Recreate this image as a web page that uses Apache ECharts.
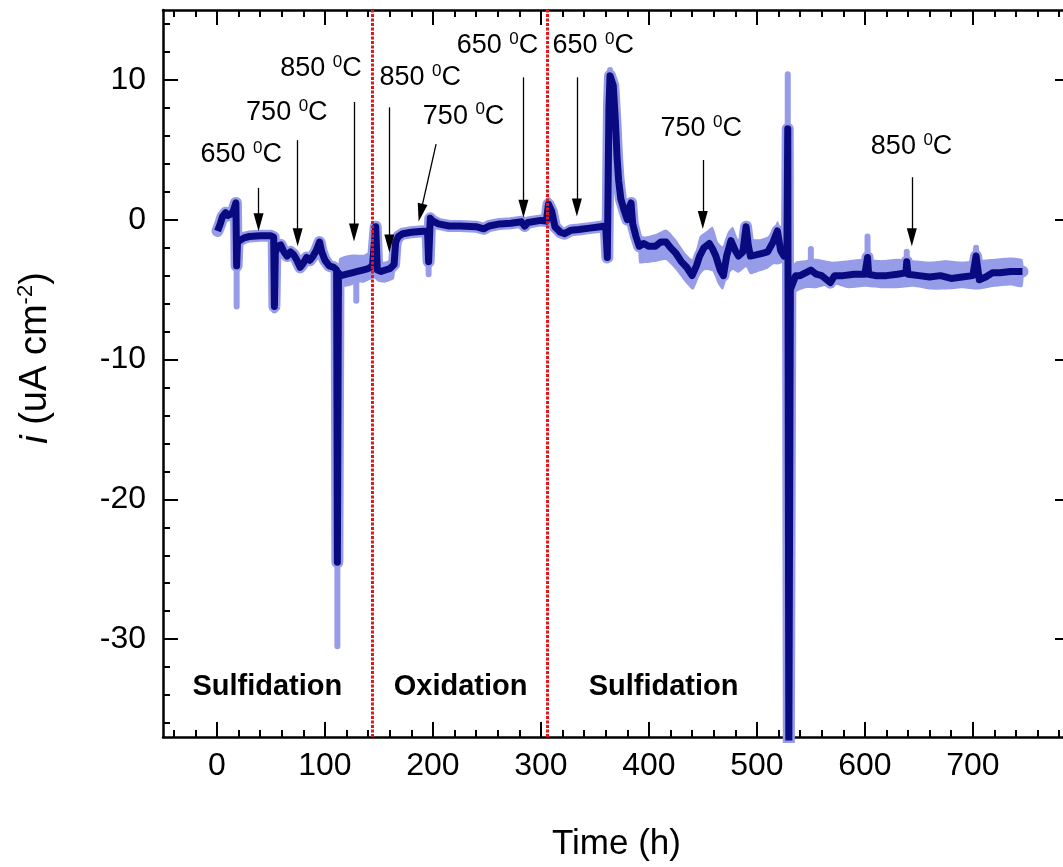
<!DOCTYPE html>
<html>
<head>
<meta charset="utf-8">
<title>Current density vs time</title>
<script src="https://cdn.jsdelivr.net/npm/echarts@6/dist/echarts.min.js"></script>
<style>
  html, body { margin: 0; padding: 0; overflow: hidden; background: #fff; }
  #main { width: 1080px; height: 867px; }
</style>
</head>
<body>
<div id="main"></div>
<script>
// smoothed trace (dark)
var darkT = [0.5, 3, 5, 8, 10, 13, 15, 17.5, 18.2, 19, 21, 25, 30, 40, 50, 52.5, 53.2, 54, 56, 59,
  62, 65, 68, 71, 74, 77, 80, 83, 86, 89, 92, 95, 97, 100, 104, 108, 110.8, 111.5, 112.5, 115,
  120, 125, 130, 135, 140, 144, 147, 148.5, 152, 156, 160, 164, 165.5, 168, 172, 180, 188, 195, 196, 197.5,
  200, 205, 215, 225, 240, 247, 252, 262, 272, 282, 285, 288, 300, 305, 307, 310, 313, 318, 322, 328,
  335, 345, 355, 360, 361.5, 363, 364, 367, 369, 370.5, 372, 374, 377, 380, 382, 383.5, 385, 388, 391, 395,
  400, 406, 411, 416, 420, 425, 430, 435, 440, 444, 447, 451, 456, 459, 462, 466, 469, 472, 476, 480,
  483, 487, 490, 492, 494, 500, 505, 510, 515, 519, 522, 525, 527.8, 528.6, 529.6, 531, 533, 536, 540, 545,
  550, 555, 560, 568, 572, 580, 590, 600, 602.5, 603.5, 610, 620, 630, 638, 638.8, 640, 650, 660, 670, 680,
  690, 700, 703, 706, 712, 718, 725, 735, 746];
var darkI = [-0.8, -0.3, 0.2, 0.5, 0.3, 0.4, 0.6, 1.2, -3.3, -1.6, -1.5, -1.3, -1.2, -1.15, -1.15, -1.25, -6.2, -2.4, -1.9, -1.8,
  -2.3, -2.6, -2.3, -2.5, -2.9, -3.4, -3.1, -2.7, -2.9, -2.6, -2.2, -1.6, -2.3, -2.9, -3.3, -3.4, -3.6, -24.5, -3.8, -4.0,
  -3.9, -3.8, -3.7, -3.6, -3.5, -3.3, -0.5, -3.6, -3.7, -3.6, -3.5, -3.2, -1.6, -1.2, -1.0, -0.9, -0.85, -0.8, -3.0, 0.1,
  -0.1, -0.3, -0.45, -0.45, -0.5, -0.65, -0.45, -0.3, -0.25, -0.15, -0.45, -0.2, -0.05, -0.1, 1.1, 0.6, -0.5, -0.9, -1.0, -0.75,
  -0.7, -0.6, -0.5, -0.45, -2.7, 8.0, 10.3, 9.6, 7.0, 4.5, 2.8, 1.5, 0.7, 0.0, 0.9, 1.2, -0.3, -1.2, -1.9, -1.7,
  -1.9, -1.9, -1.6, -1.6, -2.0, -2.4, -3.0, -3.4, -4.0, -3.3, -2.6, -2.0, -1.7, -2.1, -2.6, -3.6, -4.0, -2.6, -1.5, -2.2,
  -2.6, -2.3, -0.5, -1.8, -2.6, -2.5, -2.4, -2.3, -1.6, -0.8, -2.2, -2.6, -2.5, 6.5, -38, -5.0, -4.6, -4.0, -4.0, -3.8,
  -3.6, -3.9, -4.0, -4.5, -4.0, -4.0, -3.9, -3.9, -2.7, -3.9, -4.0, -4.0, -3.9, -3.8, -3.0, -3.9, -4.0, -4.1, -4.0, -4.2,
  -4.1, -4.0, -2.6, -4.3, -4.1, -3.8, -3.8, -3.7, -3.7];

// raw trace spikes that reach past the smoothed one (light)
var spikeT    = [18.2, 53.2, 111.5, 129, 196, 307, 364, 528.6, 550, 602.5, 638.8, 703];
var spikeFrom = [-3.3, -6.2, -24.5, -3.7, -3.0, 1.1, 10.3, 6.5, -3.6, -2.7, -3.0, -2.6];
var spikeTo   = [-6.2, -6.5, -30.5, -5.8, -3.9, 1.4, 10.7, 10.4, -2.1, -1.2, -2.3, -2.0];

// noise envelope of the raw trace
var bandAT  = [113, 118, 124, 130, 136, 142, 146, 148.5, 155, 164];
var bandALo = [-4.7, -4.8, -4.7, -4.5, -4.5, -4.3, -4.2, -4.4, -4.5, -4.2];
var bandAHi = [-2.8, -2.6, -2.5, -2.5, -2.5, -2.3, -2.4, -3.0, -3.0, -2.8];
var bandBT  = [391, 397, 407, 416, 425, 434, 441, 447, 452, 459, 464, 468.4, 473, 477.7, 483, 490, 494, 502, 510, 515,
  519.4, 524, 528, 531, 536, 545, 555, 570, 585, 600, 615, 630, 645, 660, 675, 690, 705, 720, 735, 746];
var bandBLo = [-3.1, -3.1, -3.0, -2.9, -3.6, -4.5, -5.0, -4.0, -3.6, -3.7, -4.6, -5.0, -4.0, -3.6, -3.8, -3.4, -3.9, -3.7, -3.5, -3.2,
  -3.2, -3.1, -3.3, -6.0, -5.2, -4.9, -4.9, -4.6, -4.9, -4.8, -4.9, -4.9, -4.8, -5.0, -5.0, -4.9, -5.0, -4.8, -4.7, -4.8];
var bandBHi = [-1.2, -1.2, -1.0, -0.7, -1.4, -2.4, -2.85, -1.2, -0.9, -0.5, -1.6, -1.9, -0.9, -0.5, -1.4, -0.2, -1.3, -1.4, -1.2, -0.7,
  -0.1, -1.2, -1.3, -3.4, -3.0, -2.9, -2.8, -3.0, -2.9, -2.8, -2.9, -2.8, -2.9, -3.0, -2.9, -3.0, -2.9, -2.8, -2.7, -2.85];

// temperature annotations
var annoT    = [22.5, 64.7, 96.3, 188.2, 228.4, 259.7, 348.4, 448.5, 643.3];
var annoI    = [4.63, 7.64, 10.8, 10.16, 7.40, 12.46, 12.46, 6.52, 5.22];
var annoTemp = ['650', '750', '850', '850', '750', '650', '650', '750', '850'];
var arrowT0 = [38.5, 74.7, 126.9, 159.6, 202.9, 283.8, 333.3, 449.9, 643.5];
var arrowI0 = [2.28, 5.69, 8.42, 8.04, 5.41, 10.18, 10.18, 4.27, 3.04];
var arrowT1 = [38.5, 74.7, 126.9, 159.6, 188.6, 283.8, 333.3, 449.9, 643.5];
var arrowI1 = [-0.19, -1.26, -0.91, -1.71, 0.50, 0.78, 0.88, -0.02, -1.26];

// environment phases
var phaseT    = [46.6, 225.6, 413.6];
var phaseI    = [-33.4, -33.4, -33.4];
var phaseName = ['Sulfidation', 'Oxidation', 'Sulfidation'];
var switchT   = [144, 306];

// axes
var xTicks = [0, 100, 200, 300, 400, 500, 600, 700];
var yTicks = [-30, -20, -10, 0, 10];
var X_MIN = -50, X_MAX = 790, Y_MIN = -37, Y_MAX = 15;

var FONT = '"Liberation Sans", Arial, sans-serif';
var LIGHT = '#979ce8';
var DARK = '#0a0a80';

var xMinor = [], yMinor = [];
for (var v = -40; v <= 780; v += 20) if (v % 100 !== 0) xMinor.push(v);
for (var w = -36; w <= 14; w += 2) if (w % 10 !== 0) yMinor.push(w);

function axis(isX, pos, ticks, len, withLine, withLabels) {
  return {
    type: 'value', position: pos,
    min: isX ? X_MIN : Y_MIN, max: isX ? X_MAX : Y_MAX,
    axisLine: { show: withLine, onZero: false, lineStyle: { color: '#000', width: 2.5 } },
    axisTick: { show: true, inside: true, length: len, customValues: ticks,
                lineStyle: { color: '#000', width: 2 } },
    axisLabel: { show: withLabels, customValues: ticks, color: '#000',
                 fontSize: 32, fontFamily: FONT, margin: isX ? 13 : 17 },
    splitLine: { show: false }
  };
}

var xAxes = [
  axis(true, 'bottom', xTicks, 15, true, true),
  axis(true, 'bottom', xMinor, 7, false, false),
  axis(true, 'top', xTicks, 15, true, false),
  axis(true, 'top', xMinor, 7, false, false)
];
xAxes[0].name = 'Time (h)';
xAxes[0].nameLocation = 'middle';
xAxes[0].nameGap = 90;
xAxes[0].nameTextStyle = { fontSize: 35, fontFamily: FONT, color: '#000' };

var yAxes = [
  axis(false, 'left', yTicks, 15, true, true),
  axis(false, 'left', yMinor, 7, false, false),
  axis(false, 'right', yTicks, 15, true, false),
  axis(false, 'right', yMinor, 7, false, false)
];

function pairs(xs, ys) {
  return xs.map(function (x, i) { return [x, ys[i]]; });
}

var bands = [
  { t: bandAT, lo: bandALo, hi: bandAHi },
  { t: bandBT, lo: bandBLo, hi: bandBHi }
];

var spikeData = [];
spikeT.forEach(function (t, i) {
  spikeData.push([t, spikeFrom[i]], [t, spikeTo[i]], [t, '-']);
});

var arrowLines = arrowT0.map(function (t, i) {
  return [
    { coord: [t, arrowI0[i]], symbol: 'none' },
    { coord: [arrowT1[i], arrowI1[i]], symbol: 'triangle', symbolSize: [10, 18] }
  ];
});

// invisible anchor points that carry the text labels
var anchorItem = { color: 'rgba(0,0,0,0)', opacity: 1 };

var myChart = echarts.init(document.getElementById('main'));
var option = {
  animation: false,
  backgroundColor: '#fff',
  grid: { left: 163, right: 10, top: 10, bottom: 127 },
  xAxis: xAxes,
  yAxis: yAxes,
  graphic: [{
    type: 'text', x: 36, y: 358, rotation: Math.PI / 2,
    style: {
      text: '{i|i }{n|(uA cm}{s|-2}{n|)}',
      align: 'center', verticalAlign: 'middle',
      rich: {
        i: { fontSize: 38, fontStyle: 'italic', fontFamily: FONT, fill: '#000', lineHeight: 42 },
        n: { fontSize: 38, fontFamily: FONT, fill: '#000', lineHeight: 42 },
        s: { fontSize: 22, fontFamily: FONT, fill: '#000', verticalAlign: 'top', lineHeight: 22 }
      }
    }
  }],
  series: [
    {
      name: 'noise', type: 'custom', silent: true, clip: true,
      data: [[0, 0], [1, 0]],
      renderItem: function (params, api) {
        var b = bands[params.dataIndex];
        var pts = [];
        for (var i = 0; i < b.t.length; i++) pts.push(api.coord([b.t[i], b.hi[i]]));
        for (var j = b.t.length - 1; j >= 0; j--) pts.push(api.coord([b.t[j], b.lo[j]]));
        return { type: 'polygon', shape: { points: pts, smooth: 0.2 }, style: { fill: LIGHT } };
      }
    },
    {
      name: 'raw', type: 'line', showSymbol: false, silent: true,
      data: pairs(darkT, darkI),
      lineStyle: { color: LIGHT, width: 12, join: 'round', cap: 'round' }
    },
    {
      name: 'raw spikes', type: 'line', showSymbol: false, silent: true, connectNulls: false,
      data: spikeData,
      lineStyle: { color: LIGHT, width: 6, cap: 'round' }
    },
    {
      name: 'smoothed', type: 'line', showSymbol: false, silent: true,
      data: pairs(darkT, darkI),
      lineStyle: { color: DARK, width: 7, join: 'round' },
      markLine: {
        silent: true, symbol: ['none', 'none'], label: { show: false },
        lineStyle: { color: '#e5161b', width: 3, type: [3, 1.5] },
        data: switchT.map(function (t) { return { xAxis: t }; })
      }
    },
    {
      name: 'temperatures', type: 'scatter', symbolSize: 1, silent: true,
      itemStyle: anchorItem,
      data: annoT.map(function (t, i) { return [t, annoI[i], annoTemp[i]]; }),
      label: {
        show: true, position: 'inside', color: '#000', opacity: 1, textBorderWidth: 0,
        formatter: function (p) { return '{t|' + p.value[2] + ' }{s|0}{t|C}'; },
        rich: {
          t: { fontSize: 27, fontFamily: FONT, color: '#000', lineHeight: 30 },
          s: { fontSize: 17, fontFamily: FONT, color: '#000', lineHeight: 18, verticalAlign: 'top' }
        }
      },
      markLine: {
        silent: true, label: { show: false },
        symbol: ['none', 'triangle'],
        lineStyle: { color: '#000', width: 1.3, type: 'solid', opacity: 1 },
        itemStyle: { color: '#000', opacity: 1 },
        data: arrowLines
      }
    },
    {
      name: 'phases', type: 'scatter', symbolSize: 1, silent: true,
      itemStyle: anchorItem,
      data: phaseT.map(function (t, i) { return [t, phaseI[i], phaseName[i]]; }),
      label: {
        show: true, position: 'inside', color: '#000', opacity: 1, textBorderWidth: 0,
        fontSize: 29, fontWeight: 'bold', fontFamily: FONT,
        formatter: function (p) { return p.value[2]; }
      }
    }
  ]
};
myChart.setOption(option);
</script>
</body>
</html>
